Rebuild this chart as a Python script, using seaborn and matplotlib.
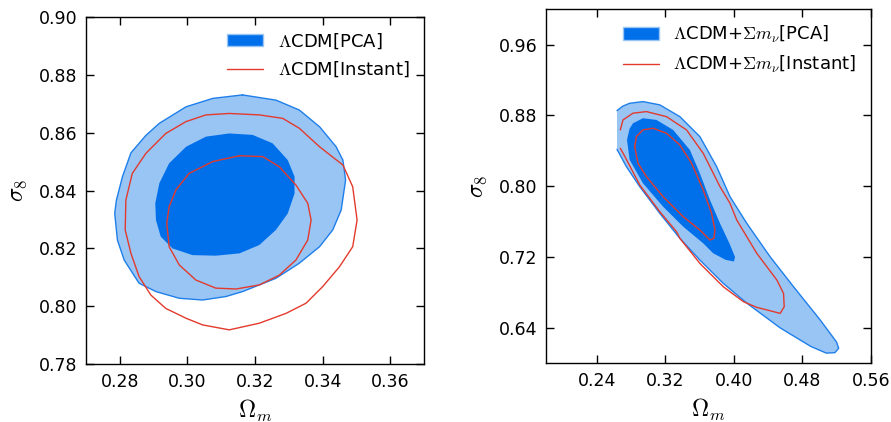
import numpy as np
import pandas as pd
import seaborn as sns
import matplotlib
matplotlib.use("Agg")
import matplotlib.pyplot as plt
from matplotlib.patches import Patch
from matplotlib.lines import Line2D

# ---------------- data (contour outlines) ----------------
# Left panel: LCDM
lcdm_pca_2s_x = [0.3163,0.3262,0.3331,0.3391,0.3440,0.3460,0.3468,0.3455,0.3430,0.3391,0.3331,0.3262,0.3163,0.3114,0.3045,0.2976,0.2907,0.2857,0.2813,0.2793,0.2785,0.2790,0.2808,0.2833,0.2877,0.2917,0.2996,0.3075]
lcdm_pca_2s_y = [0.8730,0.8712,0.8678,0.8620,0.8551,0.8505,0.8436,0.8333,0.8264,0.8206,0.8149,0.8097,0.8051,0.8034,0.8022,0.8028,0.8051,0.8080,0.8160,0.8229,0.8321,0.8367,0.8448,0.8530,0.8590,0.8632,0.8689,0.8718]
lcdm_pca_1s_x = [0.3124,0.3193,0.3252,0.3297,0.3317,0.3317,0.3297,0.3262,0.3213,0.3154,0.3084,0.3015,0.2956,0.2921,0.2907,0.2905,0.2917,0.2946,0.2996,0.3055]
lcdm_pca_1s_y = [0.8597,0.8592,0.8563,0.8505,0.8448,0.8390,0.8321,0.8264,0.8212,0.8183,0.8175,0.8177,0.8200,0.8241,0.8298,0.8356,0.8425,0.8494,0.8551,0.8586]
lcdm_inst_1s_x = [0.3154,0.3223,0.3272,0.3321,0.3356,0.3366,0.3356,0.3321,0.3272,0.3213,0.3144,0.3084,0.3025,0.2976,0.2946,0.2939,0.2946,0.2966,0.3005,0.3075]
lcdm_inst_1s_y = [0.8520,0.8517,0.8482,0.8419,0.8356,0.8298,0.8229,0.8160,0.8108,0.8074,0.8060,0.8063,0.8091,0.8143,0.8206,0.8287,0.8344,0.8402,0.8459,0.8500]
lcdm_inst_2s_x = [0.3124,0.3213,0.3282,0.3331,0.3391,0.3460,0.3489,0.3502,0.3489,0.3450,0.3400,0.3351,0.3292,0.3213,0.3124,0.3045,0.2996,0.2936,0.2892,0.2857,0.2833,0.2816,0.2818,0.2837,0.2877,0.2936,0.2996,0.3055]
lcdm_inst_2s_y = [0.8666,0.8661,0.8649,0.8615,0.8551,0.8488,0.8413,0.8298,0.8206,0.8137,0.8068,0.8011,0.7976,0.7942,0.7919,0.7936,0.7959,0.7993,0.8039,0.8103,0.8183,0.8264,0.8367,0.8459,0.8528,0.8597,0.8638,0.8661]

# Right panel: LCDM + sum m_nu
mnu_pca_2s_x = [0.2633,0.2633,0.2700,0.2781,0.2937,0.3133,0.3368,0.3602,0.3798,0.3954,0.4150,0.4423,0.4697,0.5010,0.5200,0.5225,0.5180,0.5080,0.4900,0.4541,0.4150,0.3876,0.3602,0.3368,0.3133,0.2899,0.2743]
mnu_pca_2s_y = [0.8418,0.8855,0.8905,0.8938,0.8957,0.8920,0.8787,0.8561,0.8222,0.7883,0.7582,0.7204,0.6865,0.6488,0.6240,0.6170,0.6120,0.6115,0.6190,0.6400,0.6680,0.6903,0.7167,0.7412,0.7695,0.7996,0.8222]
mnu_pca_1s_x = [0.2780,0.2820,0.2937,0.3094,0.3289,0.3485,0.3602,0.3720,0.3837,0.3950,0.4013,0.4000,0.3900,0.3758,0.3641,0.3407,0.3172,0.2937,0.2781,0.2750]
mnu_pca_1s_y = [0.8650,0.8712,0.8769,0.8750,0.8637,0.8411,0.8147,0.7845,0.7582,0.7350,0.7200,0.7150,0.7170,0.7243,0.7356,0.7544,0.7770,0.8034,0.8298,0.8524]
mnu_inst_1s_x = [0.2840,0.2860,0.2937,0.3055,0.3212,0.3368,0.3505,0.3641,0.3739,0.3778,0.3766,0.3720,0.3602,0.3407,0.3172,0.2977,0.2879]
mnu_inst_1s_y = [0.8448,0.8561,0.8637,0.8656,0.8599,0.8467,0.8260,0.7959,0.7695,0.7506,0.7412,0.7393,0.7506,0.7657,0.7883,0.8109,0.8260]
mnu_inst_2s_x = [0.2672,0.2703,0.2820,0.2977,0.3212,0.3446,0.3641,0.3837,0.3954,0.4033,0.4267,0.4502,0.4580,0.4588,0.4541,0.4423,0.4267,0.4111,0.3876,0.3602,0.3368,0.3329,0.3133,0.2899,0.2726,0.2672]
mnu_inst_2s_y = [0.8637,0.8750,0.8826,0.8844,0.8787,0.8637,0.8373,0.7996,0.7808,0.7619,0.7243,0.6941,0.6790,0.6639,0.6564,0.6594,0.6632,0.6696,0.6865,0.7129,0.7412,0.7487,0.7713,0.8015,0.8335,0.8430]

left_xticks = [0.28, 0.30, 0.32, 0.34, 0.36]
left_yticks = [0.78, 0.80, 0.82, 0.84, 0.86, 0.88, 0.90]
right_xticks = [0.24, 0.32, 0.40, 0.48, 0.56]
right_yticks = [0.64, 0.72, 0.80, 0.88, 0.96]

labels_left = [r"$\Lambda$CDM[PCA]", r"$\Lambda$CDM[Instant]"]
labels_right = [r"$\Lambda$CDM+$\Sigma m_\nu$[PCA]", r"$\Lambda$CDM+$\Sigma m_\nu$[Instant]"]

# ---------------- style ----------------
sns.set_theme(style="ticks")
plt.rcParams["font.family"] = ["DejaVu Sans"]
plt.rcParams["mathtext.fontset"] = "cm"
for k in ["text.color", "axes.labelcolor", "xtick.color", "ytick.color", "axes.edgecolor"]:
    plt.rcParams[k] = "black"

DARK = "#0070EA"
LIGHT = "#99C5F5"
EDGE = "#1E7FEA"
RED = "#E33A2C"


def closed(x, y):
    return pd.DataFrame({"x": list(x) + [x[0]], "y": list(y) + [y[0]]})


fig = plt.figure(figsize=(8.91, 4.22), dpi=100)
ax1 = fig.add_axes([0.0965, 0.1367, 0.3794, 0.8237])
ax2 = fig.add_axes([0.6125, 0.1391, 0.3648, 0.8389])

# Left panel
d = closed(lcdm_pca_2s_x, lcdm_pca_2s_y)
ax1.fill(d["x"], d["y"], color=LIGHT, lw=0, zorder=1)
sns.lineplot(data=d, x="x", y="y", sort=False, estimator=None, color=EDGE, lw=1.0, ax=ax1, zorder=2)
d = closed(lcdm_pca_1s_x, lcdm_pca_1s_y)
ax1.fill(d["x"], d["y"], color=DARK, lw=0, zorder=3)
for xs, ys in [(lcdm_inst_1s_x, lcdm_inst_1s_y), (lcdm_inst_2s_x, lcdm_inst_2s_y)]:
    d = closed(xs, ys)
    sns.lineplot(data=d, x="x", y="y", sort=False, estimator=None, color=RED, lw=1.0, ax=ax1, zorder=4)

# Right panel
d = pd.DataFrame({"x": mnu_pca_2s_x, "y": mnu_pca_2s_y})
ax2.fill(d["x"], d["y"], color=LIGHT, lw=0, zorder=1)
d_edge = pd.DataFrame({"x": mnu_pca_2s_x[1:] + [mnu_pca_2s_x[0]], "y": mnu_pca_2s_y[1:] + [mnu_pca_2s_y[0]]})
sns.lineplot(data=d_edge, x="x", y="y", sort=False, estimator=None, color=EDGE, lw=1.0, ax=ax2, zorder=2)
d = closed(mnu_pca_1s_x, mnu_pca_1s_y)
ax2.fill(d["x"], d["y"], color=DARK, lw=0, zorder=3)
d = closed(mnu_inst_1s_x, mnu_inst_1s_y)
sns.lineplot(data=d, x="x", y="y", sort=False, estimator=None, color=RED, lw=1.0, ax=ax2, zorder=4)
d = pd.DataFrame({"x": mnu_inst_2s_x, "y": mnu_inst_2s_y})
sns.lineplot(data=d, x="x", y="y", sort=False, estimator=None, color=RED, lw=1.0, ax=ax2, zorder=4)

for ax, xl, yl, xt, yt, labs in [
    (ax1, (0.27, 0.37), (0.78, 0.90), left_xticks, left_yticks, labels_left),
    (ax2, (0.18, 0.56), (0.60, 1.00), right_xticks, right_yticks, labels_right),
]:
    ax.set_xlim(*xl)
    ax.set_ylim(*yl)
    ax.set_xticks(xt)
    ax.set_yticks(yt)
    ax.set_xticklabels([f"{v:.2f}" for v in xt])
    ax.set_yticklabels([f"{v:.2f}" for v in yt])
    ax.tick_params(direction="in", top=True, right=True, length=6, width=1,
                   labelsize=12.5, color="black", labelcolor="black", pad=6)
    for s in ax.spines.values():
        s.set_visible(True)
        s.set_color("black")
        s.set_linewidth(1.0)
    ax.set_xlabel(r"$\Omega_m$", fontsize=17, labelpad=5, color="black")
    ax.set_ylabel(r"$\sigma_8$", fontsize=17, labelpad=7, color="black")
    handles = [Patch(facecolor=DARK, edgecolor=LIGHT, lw=1.0),
               Line2D([0], [0], color=RED, lw=1.0)]
    leg = ax.legend(handles, labs, loc="upper right", frameon=False, fontsize=13,
                    handlelength=2.0, handletextpad=0.8, borderaxespad=0.4)
    for t in leg.get_texts():
        t.set_color("black")
    ax.grid(False)

fig.savefig("out.png", dpi=100)
